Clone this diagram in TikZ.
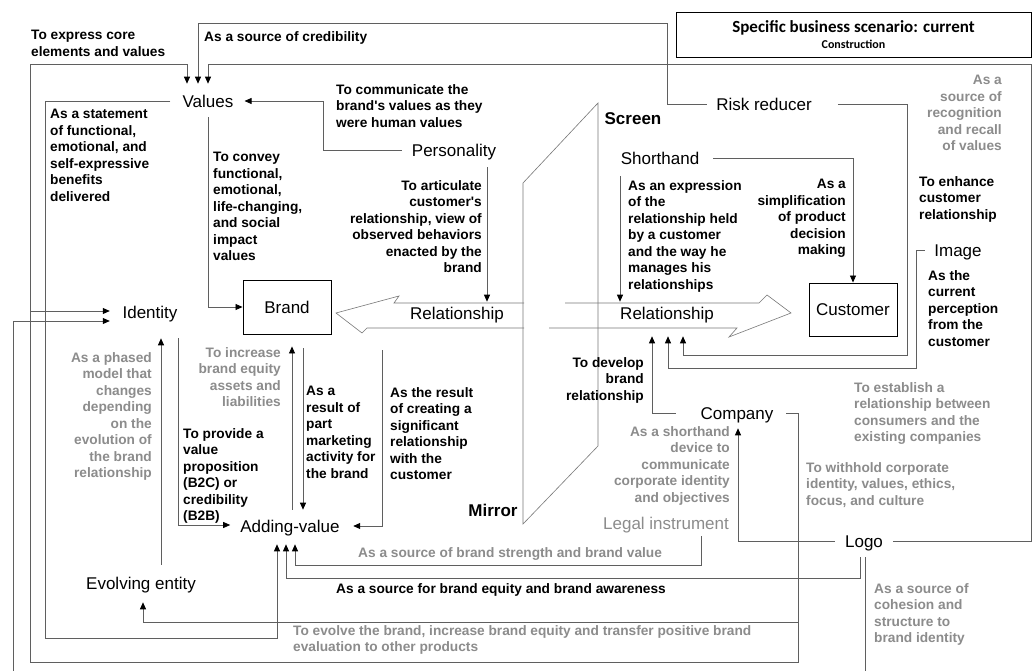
\documentclass[tikz,border=0pt]{standalone}
\usepackage{fontspec}
\setmainfont{Liberation Sans}
\newfontfamily\titlefont{Carlito}
\usetikzlibrary{arrows.meta,calc}
\definecolor{lgray}{RGB}{140,140,140}
\definecolor{lncol}{RGB}{95,95,95}
\definecolor{shcol}{RGB}{120,120,120}
\begin{document}
\begin{tikzpicture}[x=1pt,y=-1pt,
 nd/.style={inner sep=0pt, text height=12.2pt, text depth=0pt, font=\fontsize{17}{20}\selectfont},
 boxnd/.style={draw=black, line width=0.9pt, inner sep=0pt, font=\fontsize{17}{20}\selectfont},
 lbl/.style={inner sep=0pt, font=\fontsize{13.7}{16.5}\selectfont\bfseries},
 lblL/.style={lbl, anchor=north west, align=left},
 lblR/.style={lbl, anchor=north east, align=right},
 gr/.style={text=lgray},
 conn/.style={draw=lncol, line width=0.8pt},
 arr/.style={conn, -{Triangle[length=7pt,width=6pt,color=black]}},
 shapeln/.style={draw=shcol, line width=0.6pt},
]
\clip (0,0) rectangle (1034,671);
\fill[white] (0,0) rectangle (1034,671);

% title
\node[draw=black, line width=0.9pt, minimum width=355pt, minimum height=45pt, inner sep=0pt, align=center,
  font=\titlefont\bfseries\fontsize{17}{16.4}\selectfont] (title) at (853.5,34.5)
  {Specific business scenario: current\\{\fontsize{12}{12}\selectfont Construction}};

% screen / mirror shape and block arrows
\draw[shapeln] (598,103) -- (523,183) -- (523,524) -- (598,446) -- cycle;
\draw[shapeln] (524,303) -- (394,303) -- (399,296) -- (336,313) -- (362,333) -- (367,328) -- (524,328);
\draw[shapeln] (565,303) -- (759,303) -- (767,295) -- (791,313) -- (729,337) -- (737,328) -- (549,328);

% main nodes
\node[nd] (val) at (208,101) {Values};
\node[nd] (pers) at (454,150) {Personality};
\node[nd] (ident) at (150,312) {Identity};
\node[boxnd, minimum width=88pt, minimum height=54pt] (brand) at (287,307) {Brand};
\node[boxnd, minimum width=88pt, minimum height=53pt] (cust) at (853,309.5) {Customer};
\node[nd] (risk) at (764,104) {Risk reducer};
\node[nd] (short) at (660,158) {Shorthand};
\node[nd] (image) at (958,250) {Image};
\node[nd] (comp) at (737,413) {Company};
\node[nd, text=lgray] (legal) at (666,523) {Legal instrument};
\node[nd] (logo) at (864,541) {Logo};
\node[nd] (addv) at (290,526) {Adding-value};
\node[nd] (evol) at (141,583) {Evolving entity};
\node[nd] (rel1) at (457,313) {Relationship};
\node[nd] (rel2) at (667,313) {Relationship};
\node[nd, font=\fontsize{17}{20}\selectfont\bfseries] (screen) at (633,118) {Screen};
\node[nd, font=\fontsize{17}{20}\selectfont\bfseries] (mirror) at (493,510) {Mirror};

% labels
\node[lblL] (lExpress) at (31,30) {To express core\\elements and values};
\node[lblL] (lCred) at (204,31) {As a source of credibility};
\node[lblL] (lComm) at (336,84) {To communicate the\\brand\textquotesingle s values as they\\were human values};
\node[lblL] (lStat) at (50,109) {As a statement\\of functional,\\emotional, and\\self-expressive\\benefits\\delivered};
\node[lblL] (lConv) at (213,152) {To convey\\functional,\\emotional,\\life-changing,\\and social\\impact\\values};
\node[lblR] (lArt) at (482,180) {To articulate\\customer\textquotesingle s\\relationship, view of\\observed behaviors\\enacted by the\\brand};
\node[lblL] (lExpr) at (628,180) {As an expression\\of the\\relationship held\\by a customer\\and the way he\\manages his\\relationships};
\node[lblR] (lSimp) at (846,179) {As a\\simplification\\of product\\decision\\making};
\node[lblR, gr] (lRecog) at (1002,75) {As a\\source of\\recognition\\and recall\\of values};
\node[lblL] (lEnh) at (919,176) {To enhance\\customer\\relationship};
\node[lblL] (lPerc) at (928,270) {As the\\current\\perception\\from the\\customer};
\node[lblL, gr] (lEst) at (854,382) {To establish a\\relationship between\\consumers and the\\existing companies};
\node[lblL, gr] (lWith) at (806,462) {To withhold corporate\\identity, values, ethics,\\focus, and culture};
\node[lblL, gr] (lCoh) at (874,583) {As a source of\\cohesion and\\structure to\\brand identity};
\node[lblR, gr] (lShort) at (730,426) {As a shorthand\\device to\\communicate\\corporate identity\\and objectives};
\node[lblR] (lDev) at (644,357) {To develop\\brand\\relationship};
\node[lblR, gr] (lPhase) at (152,352) {As a phased\\model that\\changes\\depending\\on the\\evolution of\\the brand\\relationship};
\node[lblR, gr] (lInc) at (281,347) {To increase\\brand equity\\assets and\\liabilities};
\node[lblL] (lProv) at (183,428) {To provide a\\value\\proposition\\(B2C) or\\credibility\\(B2B)};
\node[lblL] (lRes) at (306,386) {As a\\result of\\part\\marketing\\activity for\\the brand};
\node[lblL] (lResult) at (390,387) {As the result\\of creating a\\significant\\relationship\\with the\\customer};
\node[lblL, gr] (lStr) at (358,547) {As a source of brand strength and brand value};
\node[lblL] (lEq) at (336,583) {As a source for brand equity and brand awareness};
\node[lblL, gr] (lEvo) at (293,625) {To evolve the brand, increase brand equity and transfer positive brand\\evaluation to other products};

% connectors
\coordinate (j1) at (798,622);
\coordinate (j2) at (30,311);
\draw[arr] ($(comp.east)+(12.6,0)$) -| (j1) -| ($(evol.south)+(2,13)$);
\draw[arr] (j1) -- (798,662) -| (30,64) -| ($(val.north)+(-21,-11)$);
\draw[arr] (j2) -- ($(ident.west)+(-12.6,-1)$);
\draw[arr] ($(risk.west)+(-9.3,0)$) -| (667,23) -| ($(val.north)+(-10,-11)$);
\draw[arr] ($(logo.east)+(10,0)$) -| (1031,64) -| ($(val.north)+(0,-11)$);
\draw[arr] ($(val.west)+(-12,0)$) -| (45,638) -| ($(addv.south)+(-13,12)$);
\draw[arr] ($(pers.west)+(-10,0)$) -| (323,101) -- ($(val.east)+(11,0)$);
\draw[arr] ($(val.south)+(0,10)$) |- (brand.west);
\draw[arr] ($(pers.south)+(33,11)$) -- ($(rel1.north)+(30,-5)$);
\draw[arr] ($(short.south)+(-40,12)$) -- ($(rel2.north)+(-47,-5)$);
\draw[arr] ($(short.east)+(14,0)$) -| (cust.north);
\draw[arr] ($(risk.east)+(26,0)$) -| (907,355) -| ($(rel2.south)+(16,17)$);
\draw[arr] ($(image.west)+(-9.4,0)$) -| (916,368) -| ($(rel2.south)+(1,17)$);
\draw[arr] ($(comp.west)+(-24.6,0)$) -| ($(rel2.south)+(-15,17)$);
\draw[arr] ($(logo.west)+(-10,0)$) -| ($(comp.south)+(1,9)$);
\draw[arr] ($(logo.south)+(-4,10)$) -- (860,578) -| ($(addv.south)+(-4,12)$);
\draw[arr] ($(legal.south)+(35,7)$) -- (701,565) -| ($(addv.south)+(5,12)$);
\draw[arr] ($(logo.south)+(1,10)$) -- (865,674) -| (13,321) -- ($(ident.west)+(-12.6,9)$);
\draw[arr] ($(ident.south)+(28,20)$) |- ($(addv.west)+(-10,-1)$);
\draw[arr] ($(evol.north)+(20,-12)$) -- ($(ident.south)+(11,20)$);
\draw[arr] ($(brand.south)+(16,14)$) -- ($(addv.north)+(13,-10)$);
\draw[arr] ($(addv.north)+(2,-10)$) -- ($(brand.south)+(5,12)$);
\draw[arr] ($(rel1.south)+(-75,31)$) |- ($(addv.east)+(13.4,0)$);
\end{tikzpicture}
\end{document}
